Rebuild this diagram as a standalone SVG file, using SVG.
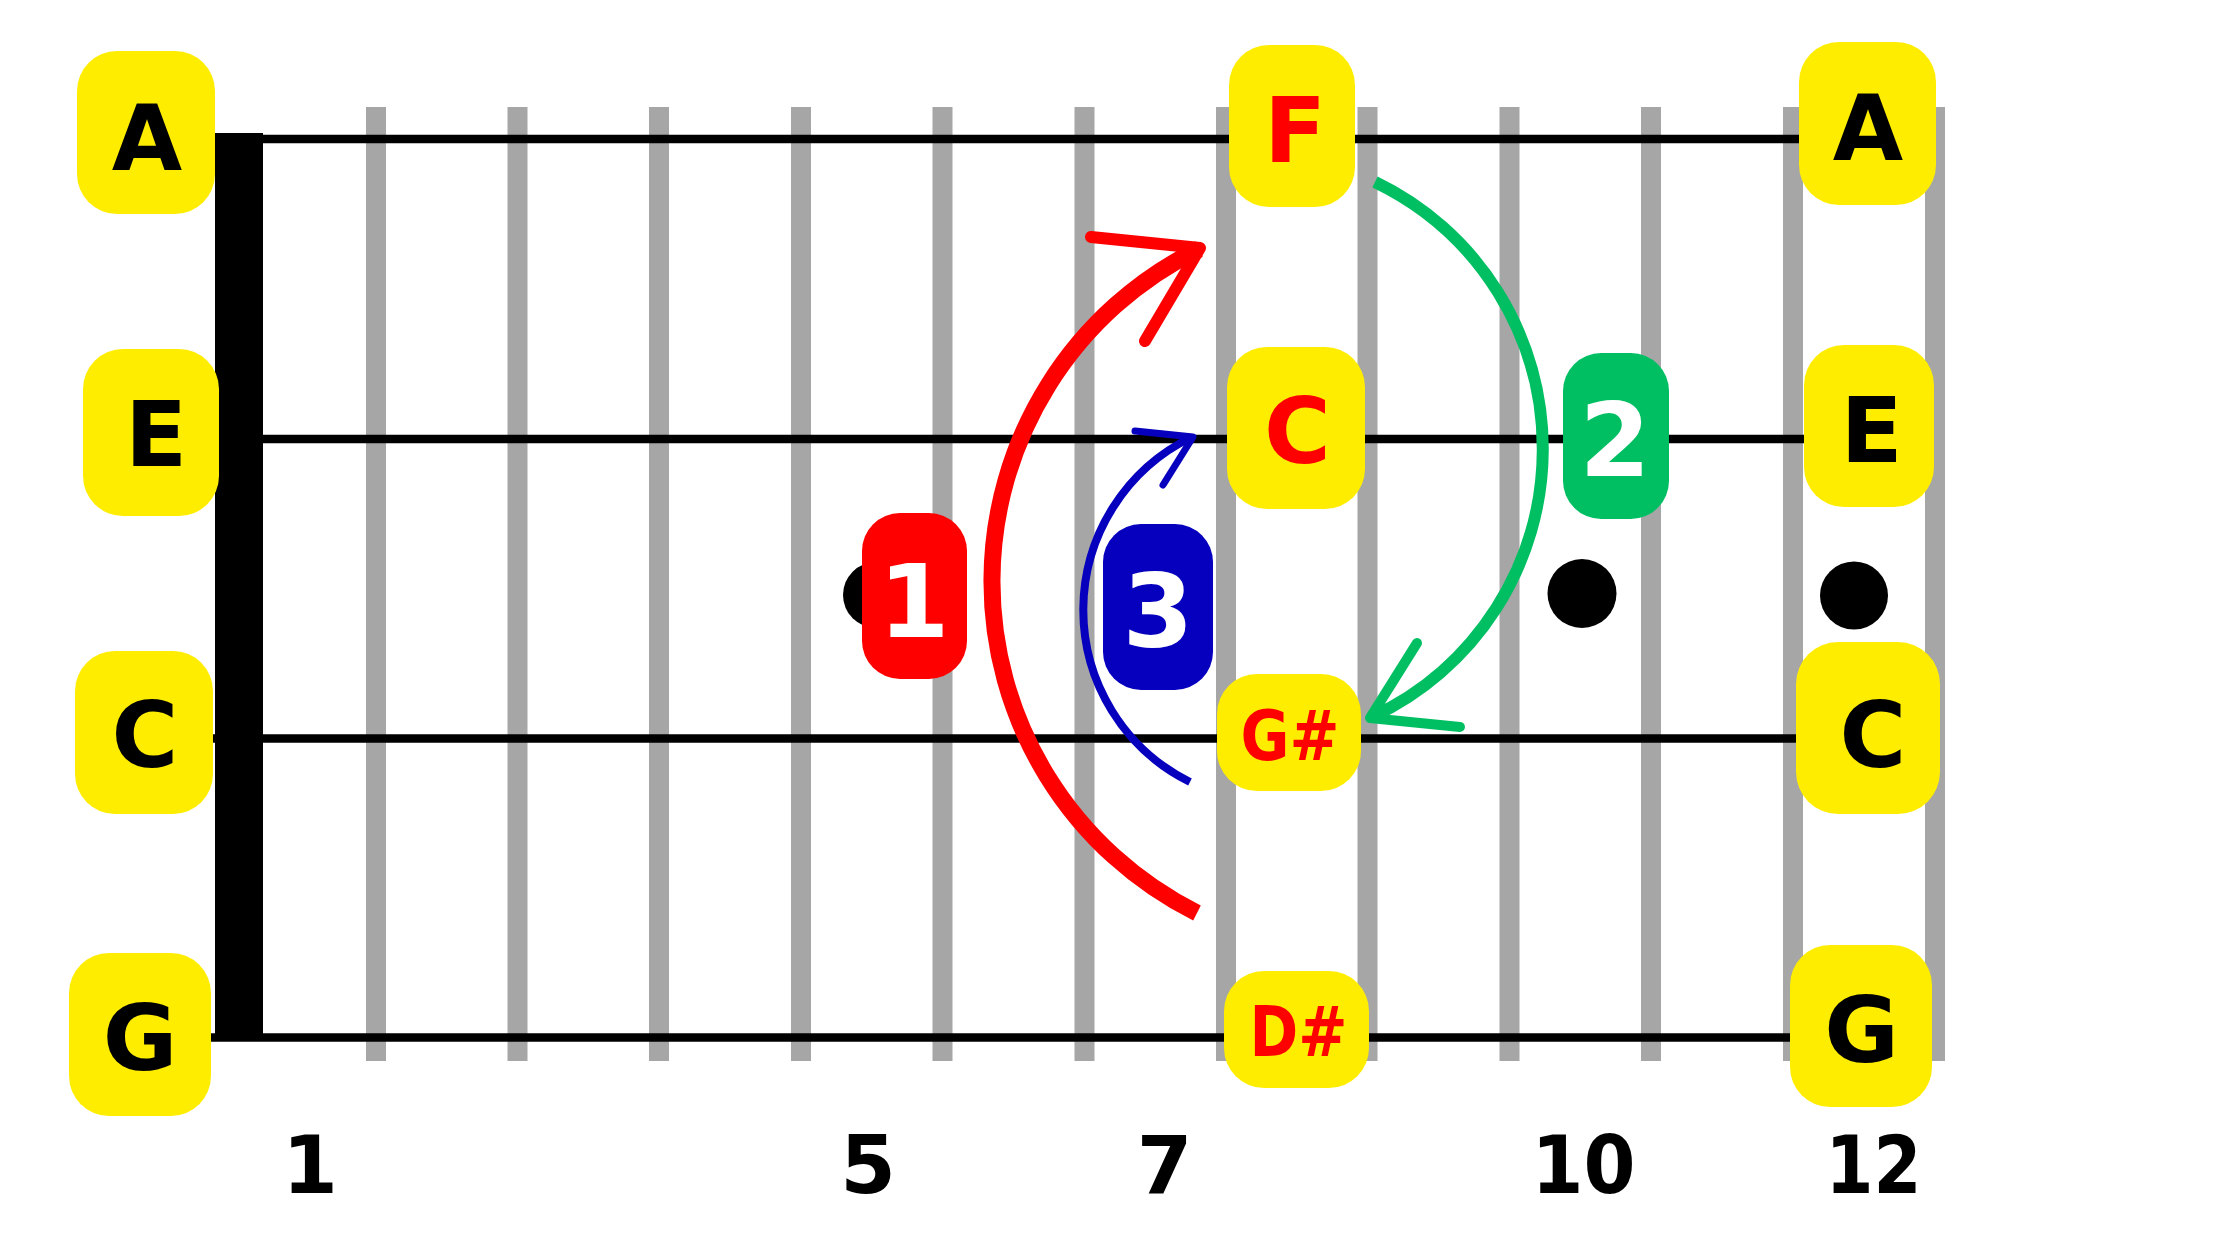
<svg xmlns="http://www.w3.org/2000/svg" width="2240" height="1260" viewBox="0 0 2240 1260">
<style>
.fret{fill:#A6A6A6}
.str{stroke:#000;stroke-width:8.5;fill:none}
.lbl{fill:#FFED00}
.t{font-family:"DejaVu Sans","Liberation Sans",sans-serif;font-weight:bold;text-anchor:middle}
.note{font-size:91px;fill:#000}
.rnote{font-size:91px;fill:#FF0000}
.snote{font-size:69px;fill:#FF0000}
.num{font-size:80px;fill:#000}
.badge{font-size:102px;fill:#FFFFFF}
.dot{fill:#000}
.arm{fill:none;stroke-linecap:round;stroke-linejoin:round}
</style>
<rect width="2240" height="1260" fill="#FFFFFF"/>
<g id="frets">
<rect class="fret" x="366" y="107" width="20" height="954"/>
<rect class="fret" x="507.5" y="107" width="20" height="954"/>
<rect class="fret" x="649" y="107" width="20" height="954"/>
<rect class="fret" x="791" y="107" width="20" height="954"/>
<rect class="fret" x="932.5" y="107" width="20" height="954"/>
<rect class="fret" x="1074.5" y="107" width="20" height="954"/>
<rect class="fret" x="1216" y="107" width="20" height="954"/>
<rect class="fret" x="1357.5" y="107" width="20" height="954"/>
<rect class="fret" x="1499.5" y="107" width="20" height="954"/>
<rect class="fret" x="1641" y="107" width="20" height="954"/>
<rect class="fret" x="1783" y="107" width="20" height="954"/>
<rect class="fret" x="1925" y="107" width="20" height="954"/>
</g>
<g id="strings">
<line class="str" x1="211" y1="139" x2="1800" y2="139"/>
<line class="str" x1="211" y1="439" x2="1805" y2="439"/>
<line class="str" x1="211" y1="738.5" x2="1800" y2="738.5"/>
<line class="str" x1="211" y1="1037.5" x2="1795" y2="1037.5"/>
</g>
<g id="nut"><rect x="215" y="133" width="48" height="904" fill="#000"/></g>
<g id="dots">
<circle class="dot" cx="876" cy="595" r="33"/>
<circle class="dot" cx="1582" cy="593.5" r="34.5"/>
<circle class="dot" cx="1854" cy="595.5" r="34"/>
</g>
<g id="connectors">
<path d="M1197,913 A370.5,370.5 0 0 1 1199,249" fill="none" stroke="#FF0000" stroke-width="17"/>
<polyline class="arm" points="1091,237 1200,248 1145,341" stroke="#FF0000" stroke-width="12"/>
<path d="M1190,782 A192,192 0 0 1 1192,437" fill="none" stroke="#0600BE" stroke-width="8"/>
<polyline class="arm" points="1135,431 1193,437 1163,485" stroke="#0600BE" stroke-width="7"/>
<path d="M1375,182 A296,296 0 0 1 1372,717" fill="none" stroke="#00BF63" stroke-width="12"/>
<polyline class="arm" points="1417,643 1370,718 1460,727" stroke="#00BF63" stroke-width="10"/>
</g>
<g id="node-A-open"><rect class="lbl" x="77" y="51" width="138" height="163" rx="40"/><text class="t note" x="147" y="170">A</text></g>
<g id="node-E-open"><rect class="lbl" x="83" y="349" width="136" height="167" rx="40"/><text class="t note" x="156" y="466">E</text></g>
<g id="node-C-open"><rect class="lbl" x="75" y="651" width="138" height="163" rx="40"/><text class="t note" x="145" y="767">C</text></g>
<g id="node-G-open"><rect class="lbl" x="69" y="953" width="142" height="163" rx="40"/><text class="t note" x="140" y="1070">G</text></g>
<g id="node-F"><rect class="lbl" x="1229" y="45" width="126" height="162" rx="40"/><text class="t rnote" x="1295" y="162">F</text></g>
<g id="node-C-red"><rect class="lbl" x="1227" y="347" width="138" height="162" rx="40"/><text class="t rnote" x="1297.5" y="463">C</text></g>
<g id="node-Gsharp"><rect class="lbl" x="1217" y="674" width="144" height="117" rx="40"/><text class="t snote" x="1290" y="760" textLength="99" lengthAdjust="spacingAndGlyphs">G#</text></g>
<g id="node-Dsharp"><rect class="lbl" x="1224" y="971" width="145" height="117" rx="40"/><text class="t snote" x="1298.5" y="1056" textLength="98" lengthAdjust="spacingAndGlyphs">D#</text></g>
<g id="node-A-12"><rect class="lbl" x="1799" y="42" width="137" height="163" rx="40"/><text class="t note" x="1868" y="160">A</text></g>
<g id="node-E-12"><rect class="lbl" x="1804" y="345" width="130" height="162" rx="40"/><text class="t note" x="1871.5" y="462">E</text></g>
<g id="node-C-12"><rect class="lbl" x="1796" y="642" width="144" height="172" rx="42"/><text class="t note" x="1873" y="767">C</text></g>
<g id="node-G-12"><rect class="lbl" x="1790" y="945" width="142" height="162" rx="40"/><text class="t note" x="1861.5" y="1062">G</text></g>
<g id="badge-1"><rect x="862" y="513" width="105" height="166" rx="38" fill="#FF0000"/><text class="t badge" x="914" y="637">1</text></g>
<g id="badge-3"><rect x="1103" y="524" width="110" height="166" rx="38" fill="#0600BE"/><text class="t badge" x="1158" y="647">3</text></g>
<g id="badge-2"><rect x="1563" y="353" width="106" height="166" rx="38" fill="#00BF63"/><text class="t badge" x="1615" y="476">2</text></g>
<g id="fret-numbers">
<text class="t num" x="310" y="1193">1</text>
<text class="t num" x="868" y="1193">5</text>
<text class="t num" x="1164.5" y="1193">7</text>
<text class="t num" x="1583.5" y="1193" textLength="104" lengthAdjust="spacingAndGlyphs">10</text>
<text class="t num" x="1873.5" y="1193" textLength="96" lengthAdjust="spacingAndGlyphs">12</text>
</g>
</svg>
